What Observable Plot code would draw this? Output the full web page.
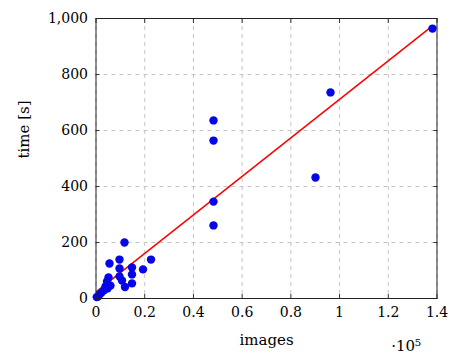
<!DOCTYPE html>
<html>
<head>
<meta charset="utf-8">
<script src="https://cdn.jsdelivr.net/npm/d3@7"></script>
<script src="https://cdn.jsdelivr.net/npm/@observablehq/plot@0.6"></script>
<style>
  html, body { margin: 0; padding: 0; background: #fff; }
  #chart svg { display: block; }
</style>
</head>
<body>
<div id="chart"></div>
<script>
const images = [300, 820, 1440, 2260, 3280, 3900, 4720, 4520, 5130, 5540, 5950,
  9650, 9650, 9650, 10670, 11700, 11900, 14780, 14780, 14780, 19300, 22580,
  48240, 48240, 48240, 48240, 90120, 96280, 138150];
const times = [5, 7, 14, 21, 29, 43, 36, 61, 75, 125, 46,
  139, 107, 79, 64, 200, 41, 111, 86, 54, 104, 139,
  636, 564, 346, 261, 432, 736, 964];
const xTicks = [0, 20000, 40000, 60000, 80000, 100000, 120000, 140000];
const yTicks = [0, 200, 400, 600, 800, 1000];

const data = images.map((x, i) => ({x, y: times[i]}));
const fmtX = d => d3.format("~g")(d / 1e5);
const fmtY = d3.format(",");
const font = "DejaVu Serif, serif";

const chart = Plot.plot({
  width: 449,
  height: 354,
  marginLeft: 95.5,
  marginRight: 12.5,
  marginTop: 18,
  marginBottom: 56,
  style: {fontFamily: font, fontSize: "14px", color: "#000", background: "#fff"},
  x: {domain: [0, 140000], ticks: xTicks},
  y: {domain: [0, 1000], ticks: yTicks},
  marks: [
    Plot.gridX(xTicks, {stroke: "#c4c4c4", strokeOpacity: 1, strokeDasharray: "4,4"}),
    Plot.gridY(yTicks, {stroke: "#c4c4c4", strokeOpacity: 1, strokeDasharray: "4,4"}),
    Plot.axisX({ticks: xTicks, tickSize: -4, tickPadding: 13, tickFormat: fmtX, label: null, stroke: "#333", fontSize: 14}),
    Plot.axisX({anchor: "top", ticks: xTicks, tickSize: -4, tickFormat: () => "", label: null, stroke: "#333"}),
    Plot.axisY({ticks: yTicks, tickSize: -4, tickPadding: 12, tickFormat: fmtY, label: null, stroke: "#333", fontSize: 14}),
    Plot.axisY({anchor: "right", ticks: yTicks, tickSize: -4, tickFormat: () => "", label: null, stroke: "#333"}),
    Plot.linearRegressionY(data, {x: "x", y: "y", stroke: "#f00", strokeWidth: 1.5, ci: 0}),
    Plot.dot(data, {x: "x", y: "y", r: 4.2, fill: "#0505e6", stroke: "none"}),
    Plot.frame({stroke: "#222", strokeWidth: 1}),
    Plot.text(["images"], {text: d => d, frameAnchor: "bottom", dy: 42, lineAnchor: "middle", fontSize: 15}),
    Plot.text(["time [s]"], {text: d => d, frameAnchor: "left", dx: -72, rotate: -90, lineAnchor: "middle", fontSize: 15}),
    Plot.text(["·10⁵"], {text: d => d, frameAnchor: "bottom-right", dx: -16, dy: 48, textAnchor: "end", lineAnchor: "middle", fontSize: 15})
  ]
});
document.getElementById("chart").appendChild(chart);
</script>
</body>
</html>
